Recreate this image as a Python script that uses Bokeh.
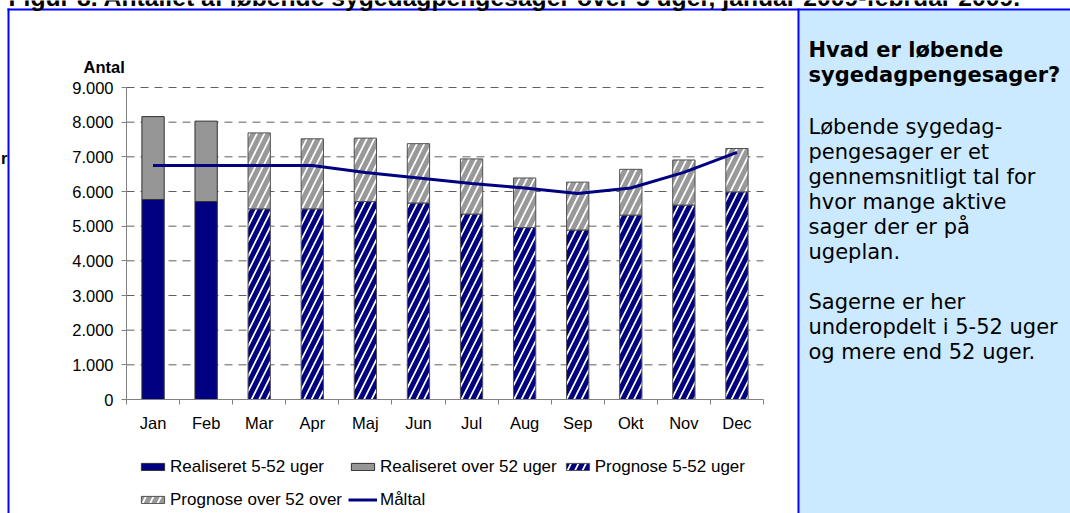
import numpy as np
from bokeh.plotting import figure
from bokeh.models import (Range1d, LinearAxis, FixedTicker, Label, BoxAnnotation, Legend,
                          LegendItem)
from bokeh.embed import file_html
from bokeh.resources import INLINE

# ---------------- data ----------------
months = ["Jan", "Feb", "Mar", "Apr", "Maj", "Jun", "Jul", "Aug", "Sep", "Okt", "Nov", "Dec"]
n_realized = 2  # Jan, Feb realised; Mar-Dec prognose
realized_5_52 = [5770, 5710]
realized_over_52 = [2390, 2320]
prognose_5_52 = [5500, 5500, 5710, 5670, 5350, 4960, 4890, 5320, 5610, 5990]
prognose_over_52 = [2190, 2020, 1830, 1710, 1590, 1430, 1380, 1320, 1300, 1250]
maaltal = [6750, 6750, 6750, 6750, 6550, 6390, 6230, 6100, 5940, 6100, 6550, 7130]
y_ticks = [0, 1000, 2000, 3000, 4000, 5000, 6000, 7000, 8000, 9000]
y_tick_labels = ["0", "1.000", "2.000", "3.000", "4.000", "5.000", "6.000", "7.000", "8.000", "9.000"]
legend_labels = ["Realiseret 5-52 uger", "Realiseret over 52 uger", "Prognose 5-52 uger",
                 "Prognose over 52 over", "Måltal"]
y_title = "Antal"
title_text = "Figur 8. Antallet af løbende sygedagpengesager over 5 uger, januar 2009-februar 2009."
side_heading = ["Hvad er løbende", "sygedagpengesager?"]
side_body = ["Løbende sygedag-", "pengesager er et", "gennemsnitligt tal for", "hvor mange aktive",
             "sager der er på", "ugeplan.", "", "Sagerne er her", "underopdelt i 5-52 uger",
             "og mere end 52 uger."]

# ---------------- layout ----------------
W, H = 1070, 513
FL, FR, FT, FB = 126, 763, 87, 399      # pixel box of the bar chart area
YMAX = 9000
NAVY = "#000080"
GREY = "#969696"
AX = "#808080"
FONT = "Liberation Sans"
SIDE_FONT = "DejaVu Sans"
LDY = -6                                 # baseline correction for labels

n = len(months)
xc = np.arange(n) + 0.5          # category centres on a 0..n scale
sx = (FR - FL) / n               # px per category
sy = (FB - FT) / YMAX            # px per unit

p = figure(width=W, height=H,
           x_range=Range1d(-FL / sx, (W - FL) / sx),
           y_range=Range1d(-(H - FB) / sy, FB / sy),
           output_backend="svg", toolbar_location=None,
           x_axis_location=None, y_axis_location=None,
           min_border=0, min_border_left=0, min_border_right=0,
           min_border_top=0, min_border_bottom=0)
p.outline_line_color = None
p.background_fill_color = "white"
p.border_fill_color = "white"
p.xgrid.visible = False
p.ygrid.visible = False

p.extra_x_ranges = {"px": Range1d(0, W)}
p.extra_y_ranges = {"py": Range1d(H, 0)}

# frame decorations (pixel coordinates via extra ranges)
def box(l, r, t, b, color):
    p.add_layout(BoxAnnotation(left=l, right=r, top=t, bottom=b, x_range_name="px",
                               y_range_name="py", fill_color=color, fill_alpha=1,
                               line_color=None, level="underlay"))

box(799, W + 5, 10, H + 5, "#CCEAFF")
box(7, W + 5, 8, 10, "#0000FF")
box(7, 9, 8, H + 5, "#0000FF")
box(797, 799, 8, H + 5, "#0000FF")

# dashed gridlines
p.segment(x0=0, x1=n, y0=y_ticks[1:], y1=y_ticks[1:], line_color="#606060",
          line_dash="8 6", line_width=1)

# y axis
ya = LinearAxis(fixed_location=0, bounds=(0, YMAX), ticker=FixedTicker(ticks=y_ticks),
                major_label_overrides={t: l for t, l in zip(y_ticks, y_tick_labels)},
                axis_line_color=AX, major_tick_line_color=AX, major_tick_out=5,
                major_tick_in=0, minor_tick_line_color=None, major_label_text_font=FONT,
                major_label_text_font_size="16.5px", major_label_text_color="black",
                major_label_standoff=8)
p.add_layout(ya, "left")

# x axes: boundary ticks + month labels
tick_axis = LinearAxis(fixed_location=0, bounds=(0, n),
                       ticker=FixedTicker(ticks=list(range(n + 1))),
                       axis_line_color=AX, major_tick_line_color=AX, major_tick_out=5,
                       major_tick_in=0, minor_tick_line_color=None, major_label_standoff=0,
                       major_label_overrides={i: "" for i in range(n + 1)},
                       major_label_text_font_size="1px")
p.add_layout(tick_axis, "below")
month_axis = LinearAxis(fixed_location=0, ticker=FixedTicker(ticks=list(xc)),
                        major_label_overrides={float(c): m for c, m in zip(xc, months)},
                        axis_line_color=None, major_tick_line_color=None, major_tick_out=0,
                        major_tick_in=0, minor_tick_line_color=None, major_label_standoff=14,
                        major_label_text_font=FONT, major_label_text_font_size="16.5px",
                        major_label_text_color="black")
p.add_layout(month_axis, "below")

# bars
bw = 0.42
xr, xp = xc[:n_realized], xc[n_realized:]
r_top = list(np.add(realized_5_52, realized_over_52))
p_top = list(np.add(prognose_5_52, prognose_over_52))
r1 = p.vbar(x=xr, top=realized_5_52, width=bw, fill_color=NAVY, line_color="#303030")
r2 = p.vbar(x=xr, bottom=realized_5_52, top=r_top, width=bw, fill_color=GREY,
            line_color="#303030")
r3 = p.vbar(x=xp, top=prognose_5_52, width=bw, fill_color="white",
            hatch_pattern="/", hatch_color=NAVY, hatch_scale=15, hatch_weight=5,
            line_color="#505050")
r4 = p.vbar(x=xp, bottom=prognose_5_52, top=p_top, width=bw, fill_color="white",
            hatch_pattern="/", hatch_color="#999999", hatch_scale=15, hatch_weight=5,
            line_color="#505050")
r5 = p.line(x=xc, y=maaltal, line_color=NAVY, line_width=3)

legend = Legend(items=[LegendItem(label=l, renderers=[r]) for l, r in
                       zip(legend_labels, [r1, r2, r3, r4, r5])],
                location=(138, 0), orientation="horizontal", ncols=3,
                border_line_color=None, background_fill_alpha=0, padding=0, margin=0,
                spacing=6, label_standoff=3, glyph_width=29, glyph_height=9,
                label_height=27, label_text_font=FONT, label_text_font_size="17px",
                label_text_color="black")
p.add_layout(legend)

def label(x, y, text, font, size, bold=False, align="left"):
    p.add_layout(Label(x=x, y=y + LDY, x_range_name="px", y_range_name="py", text=text,
                       text_font=font, text_font_size=size,
                       text_font_style="bold" if bold else "normal",
                       text_align=align, text_baseline="alphabetic", text_color="black"))

label(8, 3, title_text, FONT, "24.7px", bold=True)
label(7, 163, "r", FONT, "16.5px", bold=True, align="right")
label(83, 72, y_title, FONT, "16.5px", bold=True)

for i, t in enumerate(side_heading):
    label(808, 55 + 25 * i, t, SIDE_FONT, "21px", bold=True)
for i, t in enumerate(side_body):
    if t:
        label(808, 132 + 25 * i, t, SIDE_FONT, "21px")

open("out.html", "w").write(file_html(p, INLINE))
